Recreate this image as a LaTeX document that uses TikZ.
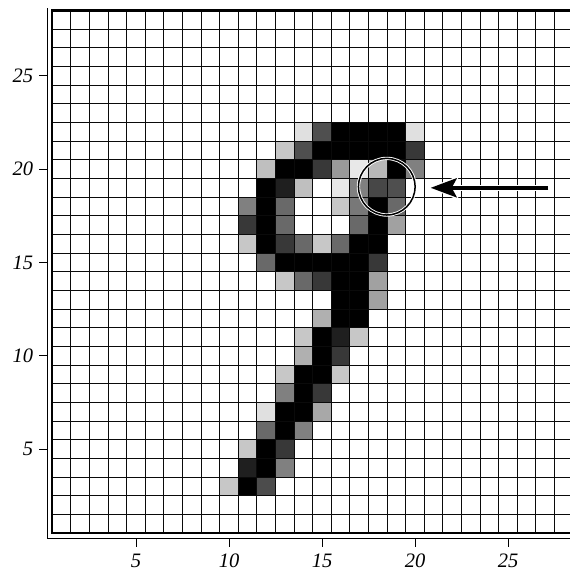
\documentclass[tikz,border=0pt]{standalone}
\usepackage{fontspec}
\setmainfont{Liberation Serif}
\usetikzlibrary{arrows.meta}
\definecolor{pen}{HTML}{000000}
\definecolor{gridpen}{HTML}{0A0A0A}
\definecolor{paper}{HTML}{FFFFFF}
\newcommand{\pxl}[3]{%
  \fill[black!#3] ({#1-0.5},{#2-0.5}) rectangle ({#1+0.5},{#2+0.5});}
\tikzset{
  gridrule/.style={gridpen, line width=1.05pt},
  axisrule/.style={pen, line width=1pt},
  ticklabel/.style={font=\fontsize{20.5}{24}\selectfont\itshape, text=pen, inner sep=0pt},
  lens/.style={circle, draw=paper, double=pen, double distance=1.5pt, line width=0.9pt,
               minimum size=56.6pt, inner sep=0pt},
  pointerline/.style={pen, line width=4pt, -{Stealth[length=26pt, width=19pt, inset=5pt]}},
  pointerhalo/.style={paper, line width=6pt, -{Stealth[length=30pt, width=24pt, inset=5pt]}}
}

\begin{document}
\begin{tikzpicture}[x=18.6pt,y=18.67pt]

\useasboundingbox (-2.312,-1.628) rectangle (28.33,29.06);

% ---------- pixel intensities (column/row/darkness)
\foreach \c/\r/\k in {14/22/12, 15/22/69, 16/22/100, 17/22/100, 18/22/100, 19/22/100, 20/22/12,
                      13/21/22, 14/21/69, 15/21/100, 16/21/100, 17/21/100, 18/21/100, 19/21/100, 20/21/78,
                      12/20/25, 13/20/100, 14/20/100, 15/20/78, 16/20/40, 17/20/9, 18/20/28, 19/20/100, 20/20/50,
                      12/19/100, 13/19/88, 14/19/25, 16/19/9, 17/19/50, 18/19/72, 19/19/69,
                      11/18/50, 12/18/100, 13/18/59, 16/18/22, 17/18/53, 18/18/100, 19/18/59,
                      11/17/78, 12/17/100, 13/17/59, 17/17/59, 18/17/100, 19/17/37,
                      11/16/22, 12/16/100, 13/16/78, 14/16/59, 15/16/22, 16/16/59, 17/16/100, 18/16/100,
                      12/15/59, 13/15/100, 14/15/100, 15/15/100, 16/15/100, 17/15/100, 18/15/78,
                      13/14/22, 14/14/59, 15/14/78, 16/14/100, 17/14/100, 18/14/37,
                      16/13/100, 17/13/100, 18/13/37,
                      15/12/31, 16/12/100, 17/12/100,
                      14/11/22, 15/11/100, 16/11/88, 17/11/22,
                      14/10/31, 15/10/100, 16/10/78,
                      13/9/22, 14/9/100, 15/9/100, 16/9/22,
                      13/8/50, 14/8/100, 15/8/78,
                      12/7/12, 13/7/100, 14/7/100, 15/7/34,
                      12/6/59, 13/6/100, 14/6/50,
                      11/5/22, 12/5/100, 13/5/78,
                      11/4/88, 12/4/100, 13/4/50,
                      10/3/22, 11/3/100, 12/3/70} {
  \pxl{\c}{\r}{\k}
}

% ---------- grid
\foreach \k in {1.5,2.5,...,27.5} {
  \draw[gridrule] (\k,0.5) -- (\k,28.5);
  \draw[gridrule] (0.5,\k) -- (28.5,\k);
}
\draw[pen, line width=2.2pt] (0.5,0.5) rectangle (28.5,28.5);

% ---------- axes
\draw[axisrule] (0.23,28.62) -- (0.23,0.23) -- (28.6,0.23);
\foreach \v in {5,10,...,25} {
  \draw[axisrule] (\v,0.23) -- (\v,-0.22);
  \node[ticklabel, anchor=base] (xlab\v) at (\v,-1.31) {\v};
  \draw[axisrule] (0.23,\v) -- (-0.22,\v);
  \node[ticklabel, anchor=east] (ylab\v) at (-0.52,\v) {\v};
}

% ---------- marked region and pointer
\node[lens] (focus) at (18.48,19.06) {};
\coordinate (pointer) at (27.17,19);
\coordinate (pointertip) at (20.84,19);
\coordinate (halotip) at (20.74,19);
\draw[pointerhalo] (pointer) -- (halotip);
\draw[pointerline] (pointer) -- (pointertip);

\end{tikzpicture}
\end{document}
